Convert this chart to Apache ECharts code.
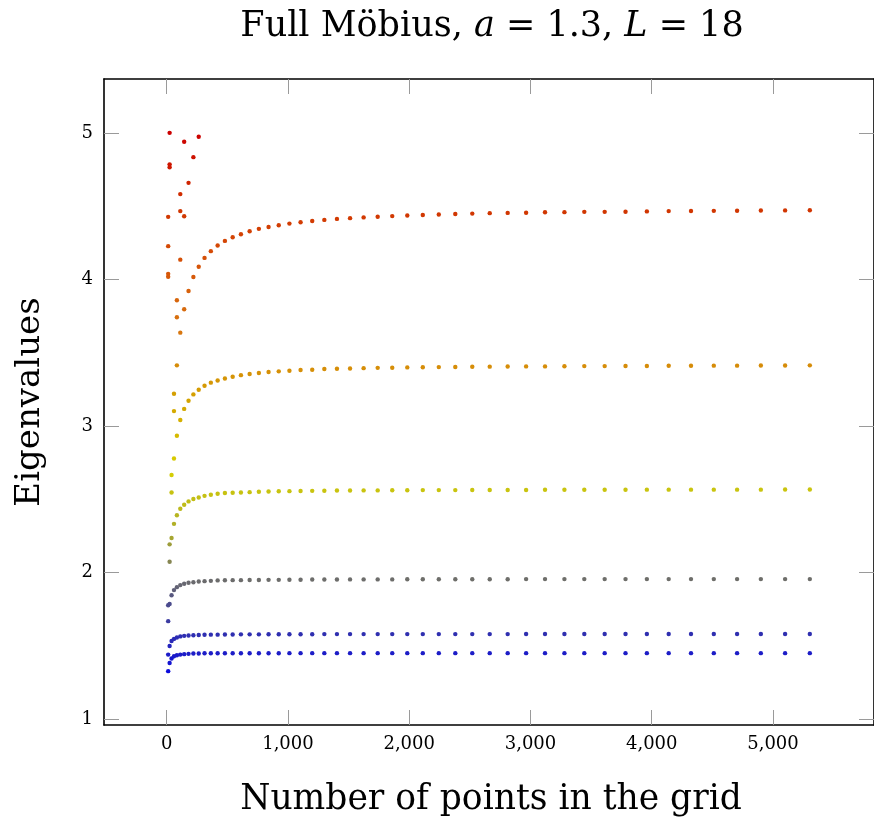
<!DOCTYPE html>
<html><head><meta charset="utf-8">
<script src="https://cdn.jsdelivr.net/npm/echarts@6/dist/echarts.min.js"></script>
<style>html,body{margin:0;padding:0;background:#fff}#c{width:874px;height:823px}</style>
</head><body><div id="c"></div>
<script>
// Number of points in the grid (one column of eigenvalues per grid size)
const gridPoints = [12,24,40,60,84,112,144,180,220,264,312,364,420,480,544,612,684,760,840,924,
  1012,1104,1200,1300,1404,1512,1624,1740,1860,1984,2112,2244,2380,2520,2664,2812,2964,3120,3280,3444,
  3612,3784,3960,4140,4324,4512,4704,4900,5100,5304];

// i-th smallest eigenvalue at each grid size (null / missing = not shown)
const eig1 = [1.328,1.384,1.414,1.430,1.437,1.441,1.444,1.446,1.448,1.449,
  1.450,1.450,1.450,1.450,1.450,1.450,1.450,1.450,1.450,1.450,
  1.451,1.451,1.451,1.451,1.451,1.451,1.451,1.451,1.451,1.451,
  1.451,1.451,1.451,1.451,1.451,1.451,1.451,1.451,1.451,1.451,
  1.451,1.451,1.451,1.451,1.451,1.451,1.451,1.451,1.451,1.451];
const eig2 = [1.441,1.500,1.534,1.548,1.558,1.565,1.569,1.571,1.573,1.575,
  1.576,1.577,1.577,1.578,1.578,1.579,1.579,1.579,1.580,1.580,
  1.580,1.580,1.580,1.581,1.581,1.581,1.581,1.581,1.581,1.581,
  1.581,1.581,1.581,1.581,1.581,1.581,1.582,1.582,1.582,1.582,
  1.582,1.582,1.582,1.582,1.582,1.582,1.582,1.582,1.582,1.582];
const eig3 = [1.669,1.787,1.846,1.881,1.901,1.915,1.924,1.931,1.935,1.940,
  1.942,1.944,1.947,1.948,1.949,1.949,1.950,1.950,1.951,1.951,
  1.952,1.952,1.953,1.953,1.953,1.954,1.954,1.954,1.954,1.955,
  1.955,1.955,1.955,1.955,1.955,1.955,1.956,1.956,1.956,1.956,
  1.956,1.956,1.956,1.956,1.956,1.956,1.956,1.956,1.956,1.956];
const eig4 = [1.778,2.074,2.236,2.333,2.392,2.436,2.463,2.486,2.502,2.513,
  2.524,2.531,2.538,2.543,2.545,2.547,2.549,2.552,2.554,2.555,
  2.556,2.557,2.558,2.559,2.560,2.560,2.561,2.561,2.562,2.562,
  2.563,2.563,2.563,2.564,2.564,2.564,2.564,2.565,2.565,2.565,
  2.565,2.565,2.566,2.566,2.566,2.566,2.566,2.566,2.567,2.567];
const eig5 = [4.018,2.193,2.547,2.779,2.934,3.041,3.117,3.173,3.216,3.248,
  3.275,3.296,3.311,3.324,3.336,3.347,3.355,3.362,3.369,3.373,
  3.377,3.382,3.384,3.389,3.391,3.393,3.395,3.397,3.398,3.400,
  3.401,3.402,3.403,3.404,3.405,3.406,3.407,3.407,3.408,3.409,
  3.409,3.410,3.410,3.411,3.411,3.412,3.412,3.413,3.413,3.414];
const eig6 = [4.038,4.765,2.666,3.102,3.414,3.637,3.797,3.921,4.017,4.087,
  4.147,4.193,4.231,4.263,4.288,4.308,4.329,4.345,4.358,4.370,
  4.381,4.390,4.399,4.406,4.413,4.418,4.423,4.428,4.432,4.436,
  4.440,4.443,4.446,4.449,4.452,4.454,4.455,4.458,4.459,4.461,
  4.461,4.462,4.464,4.466,4.467,4.468,4.469,4.470,4.471,4.472];
const eig7 = [4.227,4.785,null,3.220,3.742,4.135,4.431,4.659,4.834,4.973];
const eig8 = [4.427,5.000,null,null,3.858,4.466,4.939];
const eig9 = [null,null,null,null,null,4.582];

const xTicks = [0,1000,2000,3000,4000,5000];
const yTicks = [1,2,3,4,5];

const eigenSets = [eig1,eig2,eig3,eig4,eig5,eig6,eig7,eig8,eig9];
const FONT = 'DejaVu Serif';

const allY = eigenSets.flat().filter(v => v != null);
const yMinD = Math.min(...allY), yMaxD = Math.max(...allY);
const xMinD = Math.min(...gridPoints), xMaxD = Math.max(...gridPoints);
const ex = 0.1 * (xMaxD - xMinD), ey = 0.1 * (yMaxD - yMinD);

const series = eigenSets.map((arr, s) => ({
  type: 'scatter',
  name: 'eig' + (s + 1),
  symbol: 'circle',
  symbolSize: 4.4,
  itemStyle: {opacity: 1},
  data: arr.map((v, i) => v == null ? null : [gridPoints[i], v]).filter(p => p),
  xAxisIndex: 0, yAxisIndex: 0
}));

const tickStyle = {show: true, inside: true, length: 15, lineStyle: {color: '#9a9a9a', width: 1}};
const lineStyle = {show: true, onZero: false, lineStyle: {color: '#000', width: 1.6}};

const chart = echarts.init(document.getElementById('c'), null, {renderer: 'canvas'});
chart.setOption({
  animation: false,
  backgroundColor: '#fff',
  title: {
    text: 'Full Möbius, {i|a} = 1.3, {i|L} = 18',
    left: 487, top: 4, textAlign: 'center',
    textStyle: {fontFamily: FONT, fontSize: 35, fontWeight: 'normal', color: '#000',
      rich: {i: {fontFamily: FONT, fontSize: 35, fontStyle: 'italic', color: '#000'}}}
  },
  grid: {left: 104, top: 79, width: 776, height: 646, containLabel: false},
  visualMap: {
    show: false, type: 'continuous', dimension: 1,
    min: yMinD, max: yMaxD, seriesIndex: eigenSets.map((_, i) => i),
    inRange: {color: ['#0c0cdc','#4c4c8c','#a8a830','#d8d000','#d4a400','#d87810','#d65408','#d03000','#cc0000']}
  },
  xAxis: [{
    type: 'value', position: 'bottom', min: xMinD - ex, max: xMaxD + ex,
    axisLine: lineStyle,
    axisTick: Object.assign({customValues: xTicks}, tickStyle),
    axisLabel: {customValues: xTicks, formatter: v => v.toLocaleString('en-US'),
      fontFamily: FONT, fontSize: 18, color: '#000', margin: 10},
    splitLine: {show: false},
    name: 'Number of points in the grid', nameLocation: 'middle', nameGap: 58,
    nameTextStyle: {fontFamily: FONT, fontSize: 34.5, color: '#000', padding: [0, 0, 0, 4]}
  }, {
    type: 'value', position: 'top', min: xMinD - ex, max: xMaxD + ex,
    axisLine: lineStyle,
    axisTick: Object.assign({customValues: xTicks}, tickStyle),
    axisLabel: {show: false}, splitLine: {show: false}
  }],
  yAxis: [{
    type: 'value', position: 'left', min: yMinD - ey, max: yMaxD + ey,
    axisLine: lineStyle,
    axisTick: Object.assign({customValues: yTicks}, tickStyle),
    axisLabel: {customValues: yTicks, fontFamily: FONT, fontSize: 18, color: '#000', margin: 11},
    splitLine: {show: false},
    name: 'Eigenvalues', nameLocation: 'middle', nameGap: 57,
    nameTextStyle: {fontFamily: FONT, fontSize: 34, color: '#000'}
  }, {
    type: 'value', position: 'right', min: yMinD - ey, max: yMaxD + ey,
    axisLine: lineStyle,
    axisTick: Object.assign({customValues: yTicks}, tickStyle),
    axisLabel: {show: false}, splitLine: {show: false}
  }],
  series: series
});
</script></body></html>
